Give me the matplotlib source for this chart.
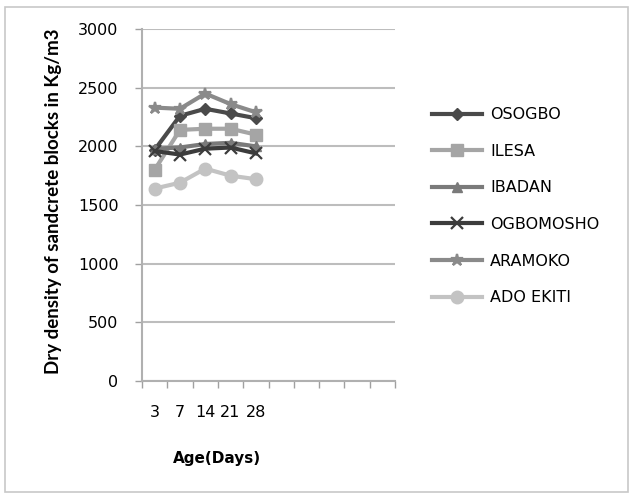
import numpy as np
from matplotlib import pyplot as plt
from matplotlib.patches import Rectangle

# data
ages = ["3", "7", "14", "21", "28"]
n_slots = 10            # excel category axis had empty slots after 28

osogbo = [1970, 2260, 2320, 2280, 2240]
ilesa = [1800, 2140, 2150, 2150, 2100]
ibadan = [1980, 1990, 2020, 2030, 2000]
ogbomosho = [1960, 1930, 1980, 1990, 1940]
aramoko = [2330, 2320, 2450, 2360, 2290]
ado_ekiti = [1640, 1690, 1810, 1750, 1720]

series_names = ["OSOGBO", "ILESA", "IBADAN", "OGBOMOSHO", "ARAMOKO", "ADO EKITI"]
series_vals = [osogbo, ilesa, ibadan, ogbomosho, aramoko, ado_ekiti]
series_cols = ["#4a4a4a", "#a5a5a5", "#7a7a7a", "#3c3c3c", "#8a8a8a", "#c3c3c3"]
series_mark = ["D", "s", "^", "x", "*", "o"]
series_msize = [6.5, 8, 7, 8, 9, 9]

plt.rcParams['font.family'] = ['DejaVu Sans']

fig = plt.figure(figsize=(6.31, 4.97), dpi=100)
W, H = 631, 497
ax = fig.add_axes([142/W, 1 - 381/H, (395-142)/W, (381-29)/H])

# outer chart border
fig.patches.append(Rectangle((5/W, 5/H), 623/W, 485/H, transform=fig.transFigure,
                             fill=False, edgecolor="#c8c8c8", linewidth=1.2))

x = np.arange(len(ages))
for name, vals, col, mk, ms in zip(series_names, series_vals, series_cols,
                                   series_mark, series_msize):
    ax.plot(x, vals, color=col, linewidth=3.0, marker=mk, markersize=ms,
            markeredgecolor=col, markeredgewidth=1.6 if mk in ("x", "*") else 1,
            label=name)

ax.set_xlim(-0.5, n_slots - 0.5)
ax.set_ylim(0, 3000)
ax.set_yticks(np.arange(0, 3001, 500))
ax.yaxis.grid(True, color="#bdbdbd", linewidth=1.5)
ax.set_axisbelow(True)

# category labels in the middle, tick marks on the boundaries
ax.set_xticks(np.arange(-0.5, n_slots, 1.0))
ax.set_xticklabels([])
ax.set_xticks(x, minor=True)
ax.set_xticklabels(ages, minor=True, fontsize=11.5)
ax.tick_params(axis="x", which="major", length=5, width=1, color="#a0a0a0", direction="out")
ax.tick_params(axis="x", which="minor", length=0, pad=17)
ax.tick_params(axis="y", length=5, width=1, color="#a0a0a0", labelsize=11.5, pad=12)

for s in ["top", "right"]:
    ax.spines[s].set_visible(False)
ax.spines["left"].set_color("#b0b0b0")
ax.spines["left"].set_linewidth(1.5)
ax.spines["bottom"].set_color("#b0b0b0")
ax.spines["bottom"].set_linewidth(1.5)

ax.set_ylabel("Dry density of sandcrete blocks in Kg/m3", fontsize=13.5,
              fontweight="bold", family=["Liberation Sans Narrow", "Lato"])
ax.yaxis.set_label_coords(-80/253, 0.51)
ax.set_xlabel("Age(Days)", fontsize=11, fontweight="bold")
ax.xaxis.set_label_coords(75/253, -70/352)

leg = fig.legend(loc="upper left", bbox_to_anchor=(418/W, 1 - 93/H), frameon=False,
                 fontsize=11.5, labelspacing=1.35, handlelength=3.1, handletextpad=0.5)

fig.savefig("out.png", dpi=100)
